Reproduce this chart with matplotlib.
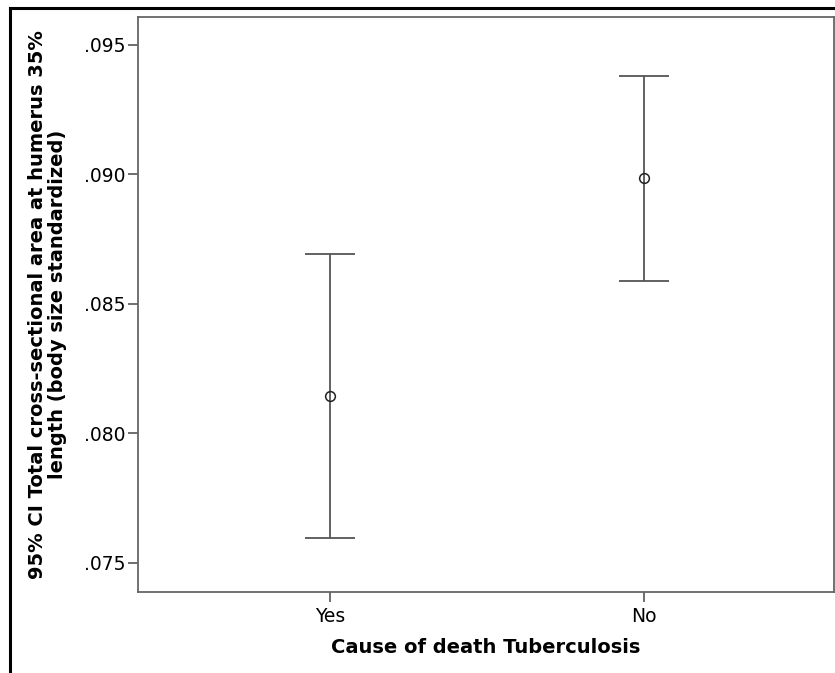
import matplotlib.pyplot as plt
from matplotlib.lines import Line2D

# data
groups = ["Yes", "No"]
means = [0.08146, 0.08985]
ci_low = [0.07598, 0.08590]
ci_high = [0.08692, 0.09381]
yticks = [0.075, 0.080, 0.085, 0.090, 0.095]

fig = plt.figure(figsize=(8.35, 6.73), dpi=100)
ax = fig.add_axes([138 / 835, 1 - 592 / 673, (834 - 138) / 835, (592 - 17) / 673])

xpos = list(range(len(groups)))
err = [[m - lo for m, lo in zip(means, ci_low)], [hi - m for m, hi in zip(means, ci_high)]]
ax.errorbar(xpos, means, yerr=err, fmt="none", ecolor="#555555", elinewidth=1.3,
            capsize=18, capthick=1.3)
ax.plot(xpos, means, "o", mfc="none", mec="#222222", ms=7, mew=1.1)

ax.set_xlim(-0.612, 1.605)
ax.set_ylim(0.07388, 0.09608)
ax.set_xticks(xpos)
ax.set_xticklabels(groups)
ax.set_yticks(yticks)
ax.set_yticklabels([f"{t:.3f}"[1:] for t in yticks])
ax.tick_params(labelsize=13.5, length=7, width=1.2, color="#555555")
ax.tick_params(axis="y", pad=2)
for s in ax.spines.values():
    s.set_color("#666666")
    s.set_linewidth(1.3)

ax.set_xlabel("Cause of death Tuberculosis", fontsize=14, fontweight="bold", labelpad=9)
ax.set_ylabel("95% CI Total cross-sectional area at humerus 35%\nlength (body size standardized)",
              fontsize=14, fontweight="bold", labelpad=12, linespacing=1.1)

# outer frame of the screenshot
fig.add_artist(Line2D([9.5 / 835, 9.5 / 835], [0, 1 - 8 / 673], color="black", lw=2.2))
fig.add_artist(Line2D([9.5 / 835, 1], [1 - 8 / 673, 1 - 8 / 673], color="black", lw=2.2))

fig.savefig("out.png", dpi=100)
